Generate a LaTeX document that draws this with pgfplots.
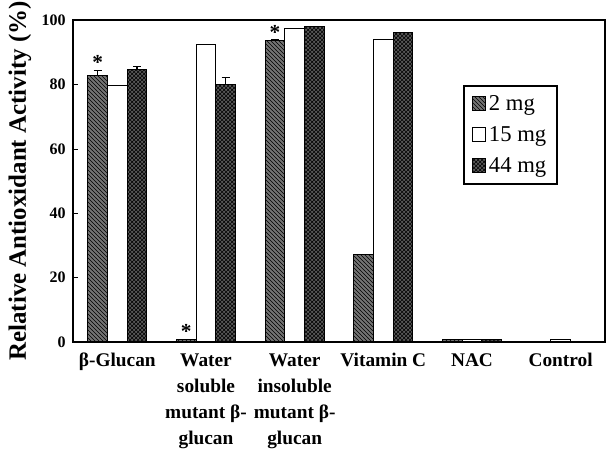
\documentclass[border=0pt]{standalone}
\usepackage{fontspec}
\setmainfont{Liberation Serif}
\usepackage{pgfplots}
\pgfplotsset{compat=1.18}
\usetikzlibrary{patterns}
\begin{document}
\begin{tikzpicture}
\useasboundingbox (-54.75pt,-81pt) rectangle (401.25pt,256.5pt);
\begin{axis}[
  at={(0,0)}, anchor=south west,
  scale only axis, width=399pt, height=241.5pt,
  xmin=-0.5, xmax=5.5, ymin=0, ymax=100,
  ytick={0,20,40,60,80,100}, ytick pos=left,
  xtick={0,1,2,3,4,5},
  xticklabels={β-Glucan, Water\\soluble\\mutant β-\\glucan, Water\\insoluble\\mutant β-\\glucan, Vitamin C, NAC, Control},
  xtick style={draw=none},
  ytick align=inside, tick style={black, thin}, major tick length=4pt,
  axis line style={black, line width=0.8pt},
  /pgf/number format/assume math mode=true,
  yticklabel style={font=\fontsize{12}{13}\selectfont\bfseries, xshift=-2pt},
  xticklabel style={font=\fontsize{14.5}{19.6}\selectfont\bfseries, align=center, yshift=-5pt, anchor=north},
  ylabel={Relative Antioxidant Activity (\%)},
  ylabel style={font=\fontsize{18.7}{21}\selectfont\bfseries, at={(axis description cs:-0.1,0.5)}, anchor=center},
  bar width=0.222,
  legend style={at={(0.733,0.798)}, anchor=north west, draw=black, line width=1.8pt,
    font=\fontsize{17}{20}\selectfont, row sep=6.5pt, inner xsep=6pt, inner ysep=5pt,
    cells={anchor=west}},
  legend image code/.code={\draw[#1, line width=0.6pt] (5pt,-4.5pt) rectangle (15pt,5.5pt);},
]
\addplot[ybar, bar shift=-0.222, draw=black, line width=0.8pt, fill=black!55,
  postaction={pattern=north west lines, pattern color=black}]
  coordinates {(0,82.7) (1,0.8) (2,93.6) (3,27.3) (4,0.8) (5,0)};
\addlegendentry{2 mg}
\addplot[ybar, bar shift=0, draw=black, line width=0.8pt, fill=white]
  coordinates {(0,79.6) (1,92.3) (2,97.4) (3,94.0) (4,0.8) (5,0.8)};
\addlegendentry{15 mg}
\addplot[ybar, bar shift=0.222, draw=black, line width=0.8pt, fill=black!65,
  postaction={pattern=crosshatch, pattern color=black}]
  coordinates {(0,84.5) (1,80.0) (2,98.0) (3,96.2) (4,0.8) (5,0)};
\addlegendentry{44 mg}
% error bars (2 mg, 44 mg), at the bar centres
\addplot[draw=none, mark=none, forget plot,
  error bars/.cd, y dir=plus, y explicit, error bar style={draw=black, line width=0.8pt},
  error mark options={draw=black, rotate=90, mark size=3pt, line width=0.8pt}]
  coordinates {(-0.222,82.7) +- (0,1.6) (1.778,93.6) +- (0,0.4) (0.222,84.5) +- (0,1.1) (1.222,80.0) +- (0,2.0)};
\node[font=\fontsize{16}{16}\selectfont\bfseries, anchor=south, yshift=-3pt] at (axis cs:-0.222,84.4) {*};
\node[font=\fontsize{16}{16}\selectfont\bfseries, anchor=south, yshift=-3pt] at (axis cs:0.778,0.8) {*};
\node[font=\fontsize{16}{16}\selectfont\bfseries, anchor=south, yshift=-4pt] at (axis cs:1.778,94.0) {*};
\end{axis}
\end{tikzpicture}
\end{document}
